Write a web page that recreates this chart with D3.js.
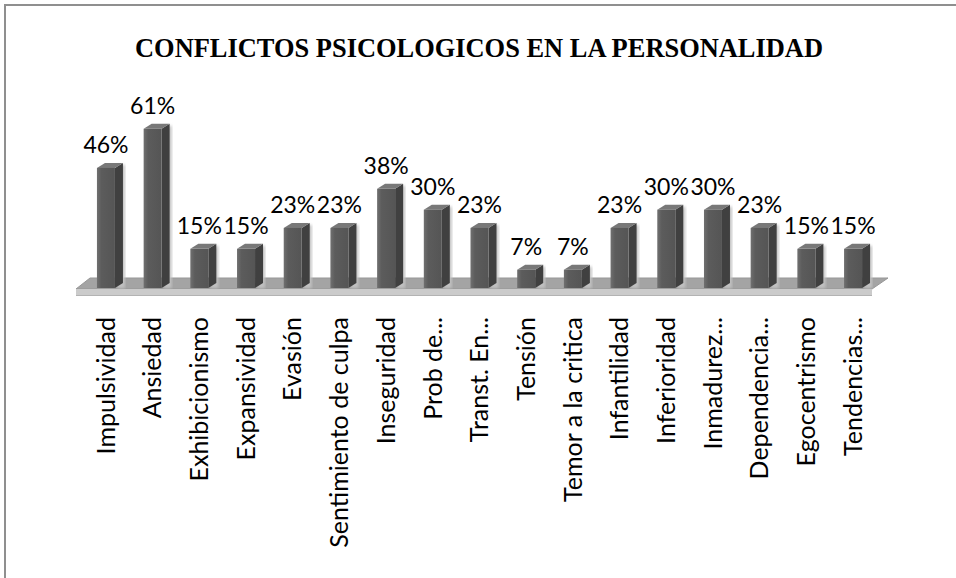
<!DOCTYPE html>
<html>
<head>
<meta charset="utf-8">
<script src="https://cdn.jsdelivr.net/npm/d3@7"></script>
<style>
  body { margin: 0; background: #fff; }
  svg { display: block; }
</style>
</head>
<body>
<svg id="chart"></svg>
<script>
const width = 956, height = 578;

// data
const categories = ["Impulsividad", "Ansiedad", "Exhibicionismo", "Expansividad", "Evasión",
  "Sentimiento de culpa", "Inseguridad", "Prob de...", "Transt. En...", "Tensión",
  "Temor a la critica", "Infantilidad", "Inferioridad", "Inmadurez...", "Dependencia...",
  "Egocentrismo", "Tendencias..."];
const values = [46, 61, 15, 15, 23, 23, 38, 30, 23, 7, 7, 23, 30, 30, 23, 15, 15];
const chartTitle = "CONFLICTOS PSICOLOGICOS EN LA PERSONALIDAD";

const baseY = 288;
const depthX = 8, depthY = 5;
const barW = 18;

const svg = d3.select('#chart')
  .attr('width', width)
  .attr('height', height);

const defs = svg.append('defs');
const grad = defs.append('linearGradient').attr('id', 'frontGrad')
  .attr('x1', '0%').attr('x2', '100%');
grad.append('stop').attr('offset', '0%').attr('stop-color', '#707070');
grad.append('stop').attr('offset', '25%').attr('stop-color', '#5c5c5c');
grad.append('stop').attr('offset', '100%').attr('stop-color', '#555555');
defs.append('filter').attr('id', 'soft')
  .append('feGaussianBlur').attr('stdDeviation', 1.6);

// outer frame (only left and top edges are inside the window)
svg.append('rect')
  .attr('x', 5).attr('y', 5)
  .attr('width', 1000).attr('height', 700)
  .attr('fill', 'none')
  .attr('stroke', '#8f8f8f')
  .attr('stroke-width', 2);

svg.append('text')
  .attr('x', 479).attr('y', 57)
  .attr('text-anchor', 'middle')
  .style('font-family', '"Liberation Serif", "Times New Roman", serif')
  .style('font-weight', 'bold')
  .style('font-size', '28px')
  .attr('textLength', 688)
  .attr('lengthAdjust', 'spacingAndGlyphs')
  .text(chartTitle);

const x = d3.scaleBand()
  .domain(categories)
  .range([82.6, 876.4]);

const y = d3.scaleLinear()
  .domain([0, 61])
  .range([baseY, baseY - 61 * 2.61]);

// floor plate
const fl = 76, fr = 872;
svg.append('polygon')
  .attr('points', [[fl + 14, 278], [fr + 16, 278], [fr, 289], [fl, 289]].join(' '))
  .attr('fill', '#a4a4a4')
  .attr('stroke', '#979797');
svg.append('rect')
  .attr('x', fl).attr('y', 289)
  .attr('width', fr - fl).attr('height', 6)
  .attr('fill', '#cbcbcb');
svg.append('line')
  .attr('x1', fl).attr('x2', fr)
  .attr('y1', 295.5).attr('y2', 295.5)
  .attr('stroke', '#b3b3b3');

const bars = svg.append('g').selectAll('g')
  .data(values)
  .join('g')
  .attr('transform', (d, i) => `translate(${x(categories[i]) + x.bandwidth() / 2 - barW / 2},0)`);

// soft shadow to the right
bars.append('rect')
  .attr('x', barW + 2)
  .attr('y', (d) => y(d) - depthY + 2)
  .attr('width', depthX)
  .attr('height', (d) => baseY - y(d) + depthY - 2)
  .attr('fill', '#c2c2c2')
  .attr('filter', 'url(#soft)');

// side face
bars.append('polygon')
  .attr('points', (d) => [[barW, y(d)], [barW + depthX, y(d) - depthY],
    [barW + depthX, baseY - depthY], [barW, baseY]].join(' '))
  .attr('fill', '#404040');

// top face
bars.append('polygon')
  .attr('points', (d) => [[0, y(d)], [depthX, y(d) - depthY],
    [barW + depthX, y(d) - depthY], [barW, y(d)]].join(' '))
  .attr('fill', '#787878');

// front face
bars.append('rect')
  .attr('x', 0)
  .attr('y', (d) => y(d))
  .attr('width', barW)
  .attr('height', (d) => baseY - y(d))
  .attr('fill', 'url(#frontGrad)');

// value labels
bars.append('text')
  .attr('x', barW / 2)
  .attr('y', (d) => y(d) - 15)
  .attr('text-anchor', 'middle')
  .style('font-family', 'Lato, "Open Sans", sans-serif')
  .style('font-size', '23px')
  .attr('fill', '#000')
  .text((d) => d + '%');

// category labels
svg.append('g').selectAll('text')
  .data(categories)
  .join('text')
  .attr('transform', (d) => `translate(${x(d) + x.bandwidth() / 2},317) rotate(-90)`)
  .attr('text-anchor', 'end')
  .attr('dy', '0.35em')
  .style('font-family', 'Lato, "Open Sans", sans-serif')
  .style('font-size', '25px')
  .attr('fill', '#000')
  .text((d) => d);
</script>
</body>
</html>
